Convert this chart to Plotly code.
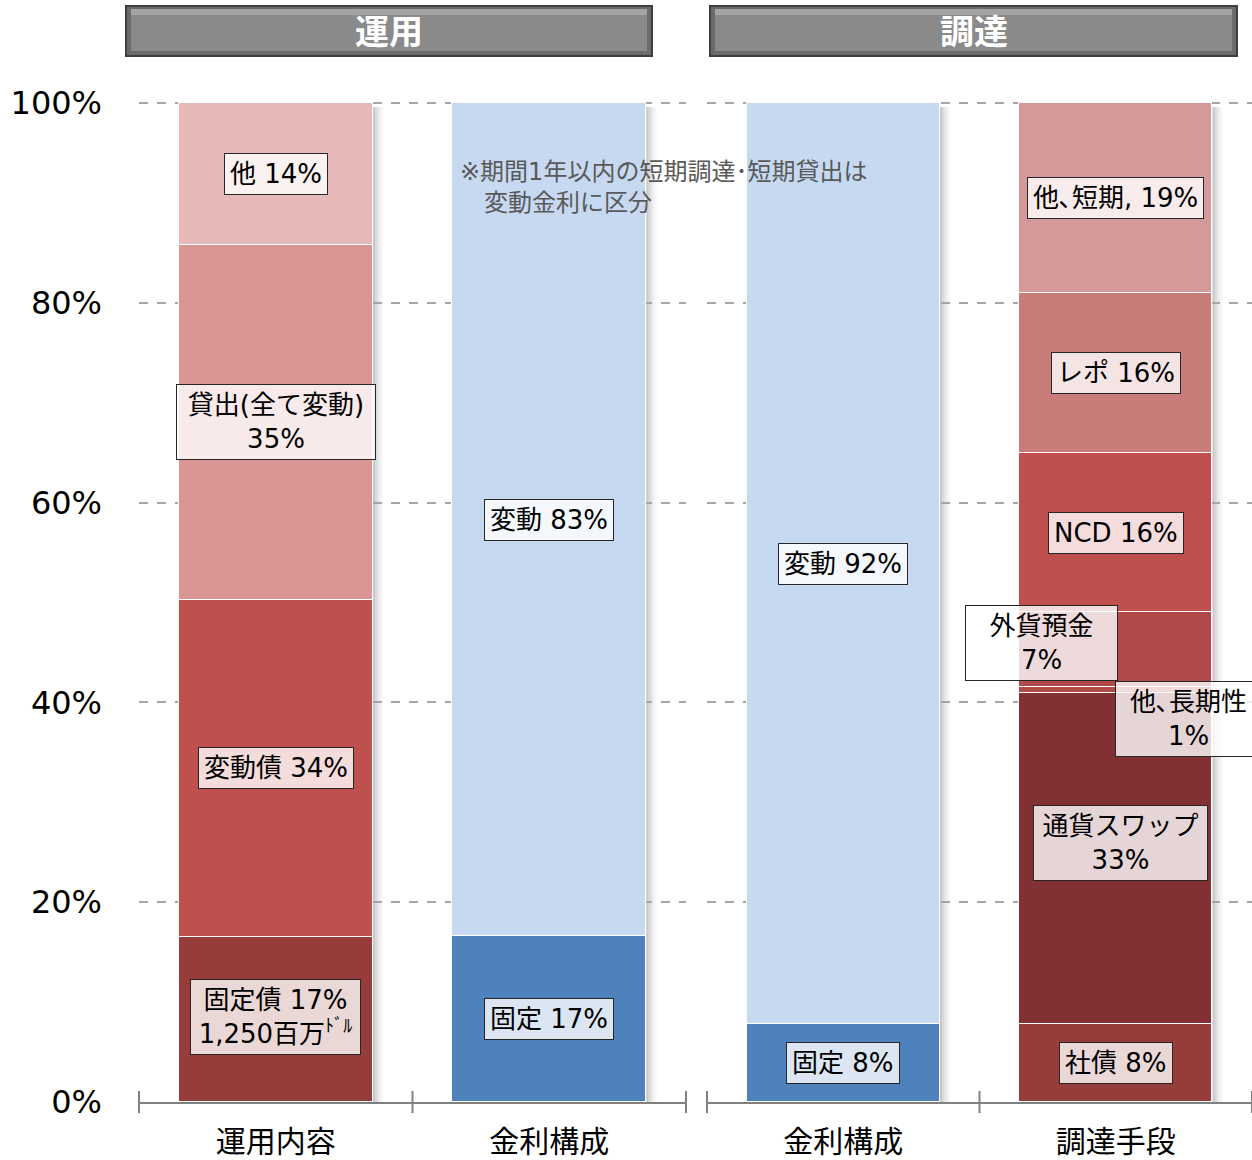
import plotly.graph_objects as go

# ---------------- data ----------------
left_categories = ["運用内容", "金利構成"]
right_categories = ["金利構成", "調達手段"]
y_ticks = [0, 20, 40, 60, 80, 100]
y_ticktext = ["0%", "20%", "40%", "60%", "80%", "100%"]

unyo_names = ["固定債", "変動債", "貸出", "他"]
unyo_values = [16.5, 33.8, 35.5, 14.2]
unyo_labels = ["固定債 17%<br>1,250百万<sup>ﾄﾞﾙ</sup>", "変動債 34%", "貸出(全て変動)<br>35%", "他 14%"]
unyo_colors = ["#963C3B", "#C0504D", "#D99694", "#E6B9B8"]

kinri_names = ["固定", "変動"]
kinri_unyo_values = [16.6, 83.4]
kinri_unyo_labels = ["固定 17%", "変動 83%"]
kinri_chotatsu_values = [7.8, 92.2]
kinri_chotatsu_labels = ["固定 8%", "変動 92%"]
kinri_colors = ["#4F81BD", "#C6D9F1"]

chotatsu_names = ["社債", "通貨スワップ", "他､長期性", "外貨預金", "NCD", "レポ", "他､短期"]
chotatsu_values = [7.8, 33.1, 0.6, 7.5, 16.0, 16.0, 19.0]
chotatsu_labels = ["社債 8%", "通貨スワップ<br>33%", "他､長期性<br>1%", "外貨預金<br>7%",
                   "NCD 16%", "レポ 16%", "他､短期, 19%"]
chotatsu_colors = ["#963C3B", "#833034", "#B24A48", "#B0494A", "#C0504D", "#C87C7A", "#D49A99"]

note_text = "※期間1年以内の短期調達･短期貸出は<br>　変動金利に区分"
header_left = "運用"
header_right = "調達"

# ---------------- layout helpers (pixel -> paper) ----------------
W, H = 1252, 1160
Y_MAX = 100.3
PL, PR, PB = 139, 1252, 1102
PT = PB - (PB - 103) * Y_MAX / 100.0


def px(x):
    return (x - PL) / (PR - PL)


def py(y):
    return (PB - y) / (PB - PT)


FONT = "DejaVu Sans, Noto Sans CJK JP, sans-serif"
BAR_W = 0.71
fig = go.Figure()
annotations = []
shapes = []

# per-label placement tweaks: (xshift, yshift, box width)
label_style = {
    "他､長期性": (73, -29, 135),
    "外貨預金": (-74, 7, 141),
    "通貨スワップ": (5, 16, 163),
    "貸出": (0, 0, 188),
    "固定債": (0, 3, 159),
}


def add_stack(xaxis, pos, names, values, colors, labels):
    base = 0
    for n, v, c, lab in zip(names, values, colors, labels):
        fig.add_trace(go.Bar(
            x=[pos], y=[v], name=n, width=BAR_W, xaxis=xaxis, yaxis="y",
            marker=dict(color=c, line=dict(color="white", width=1.5)),
            hoverinfo="skip", showlegend=False))
        xs, ys, wd = label_style.get(n, (0, 0, None))
        ann = dict(
            x=pos, y=base + v / 2, xref=xaxis, yref="y", text=lab, showarrow=False,
            xshift=xs, yshift=ys, font=dict(family=FONT, size=26, color="black"),
            bgcolor="rgba(255,255,255,0.8)", bordercolor="#262626", borderwidth=1,
            borderpad=5, align="center")
        if wd:
            ann["width"] = wd
        annotations.append(ann)
        base += v
    # shadow on the right side of the bar
    right = pos + BAR_W / 2
    step = 0.0075
    for i, op in enumerate([0.22, 0.15, 0.10, 0.06, 0.03]):
        shapes.append(dict(type="rect", xref=xaxis, yref="y",
                           x0=right + i * step, x1=right + (i + 1) * step,
                           y0=0, y1=base - 0.4, fillcolor=f"rgba(0,0,0,{op})",
                           line=dict(width=0), layer="below"))


add_stack("x", 0.5, unyo_names, unyo_values, unyo_colors, unyo_labels)
add_stack("x", 1.5, kinri_names, kinri_unyo_values, kinri_colors, kinri_unyo_labels)
add_stack("x2", 0.5, kinri_names, kinri_chotatsu_values, kinri_colors, kinri_chotatsu_labels)
add_stack("x2", 1.5, chotatsu_names, chotatsu_values, chotatsu_colors, chotatsu_labels)

# crossing tick marks at category boundaries
for xr in ["x domain", "x2 domain"]:
    for d in [0, 0.5, 1]:
        shapes.append(dict(type="line", xref=xr, yref="paper", x0=d, x1=d,
                           y0=py(1113), y1=py(1091), line=dict(color="#808080", width=2)))

# header bars (bevelled grey plates)
for (x0, x1, title) in [(125, 653, header_left), (709, 1238, header_right)]:
    shapes.append(dict(type="rect", xref="paper", yref="paper", x0=px(x0), x1=px(x1),
                       y0=py(57), y1=py(5), fillcolor="#3F3F3F", line=dict(width=0)))
    shapes.append(dict(type="rect", xref="paper", yref="paper", x0=px(x0 + 2), x1=px(x1 - 2),
                       y0=py(55), y1=py(7), fillcolor="#6B6B6B", line=dict(width=0)))
    shapes.append(dict(type="rect", xref="paper", yref="paper", x0=px(x0 + 6), x1=px(x1 - 6),
                       y0=py(51), y1=py(9), fillcolor="#8A8A8A", line=dict(width=0)))
    shapes.append(dict(type="rect", xref="paper", yref="paper", x0=px(x0 + 6), x1=px(x1 - 6),
                       y0=py(15), y1=py(9), fillcolor="#A3A3A3", line=dict(width=0)))
    annotations.append(dict(x=px((x0 + x1) / 2), y=py(30), xref="paper", yref="paper",
                            xanchor="center", yanchor="middle",
                            text=f"<b>{title}</b>", showarrow=False,
                            font=dict(family="Noto Sans CJK JP", size=34, color="white")))

annotations.append(dict(x=px(458), y=py(188), xref="paper", yref="paper", text=note_text,
                        showarrow=False, xanchor="left", yanchor="middle", align="left",
                        font=dict(family=FONT, size=24, color="#595959")))

xaxis_common = dict(range=[0, 2], tickvals=[0.5, 1.5], showline=True, linecolor="#808080",
                    linewidth=2, showgrid=False, zeroline=False, ticks="",
                    ticklabelstandoff=12, tickfont=dict(family=FONT, size=30, color="black"),
                    automargin=False, fixedrange=True)

fig.update_layout(
    width=W, height=H, autosize=False,
    margin=dict(l=PL, r=W - PR, t=PT, b=H - PB, pad=0),
    paper_bgcolor="white", plot_bgcolor="white",
    barmode="stack", bargap=0, showlegend=False,
    xaxis=dict(domain=[0, px(686)], ticktext=left_categories, anchor="y", **xaxis_common),
    xaxis2=dict(domain=[px(707), 1], ticktext=right_categories, anchor="y", **xaxis_common),
    yaxis=dict(range=[0, Y_MAX], tickvals=y_ticks, ticktext=y_ticktext, showgrid=True,
               gridcolor="#A6A6A6", griddash="dash", gridwidth=1.5, zeroline=False,
               showline=False, ticklabelstandoff=36, automargin=False, fixedrange=True,
               tickfont=dict(family=FONT, size=32, color="black")),
    annotations=annotations, shapes=shapes,
)

fig.write_html("out.html", config={"displayModeBar": False},
               post_script="document.body.style.margin='0';")
